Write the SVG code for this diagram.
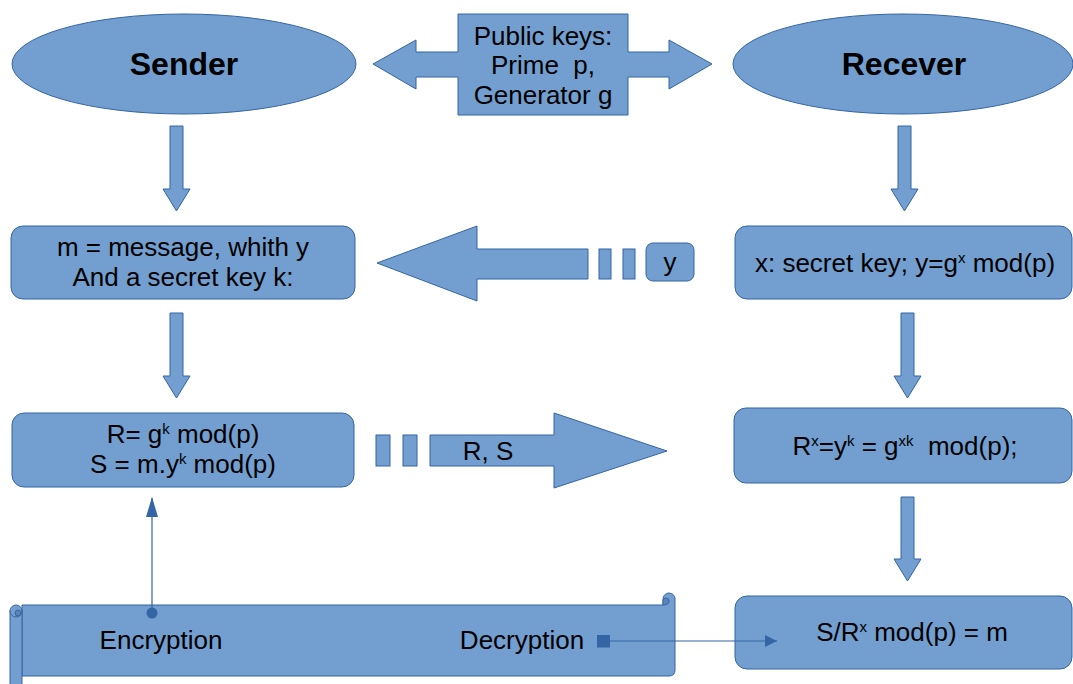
<svg xmlns="http://www.w3.org/2000/svg" width="1073" height="684" viewBox="0 0 1073 684">
  <style>
    .shape { fill: #729fcf; stroke: #3465a4; stroke-width: 1; }
    .curl { fill: #5b84b5; stroke: #3465a4; stroke-width: 1; }
    .label { font-family: "Liberation Sans", Arial, sans-serif; font-size: 26px; fill: #000; text-anchor: middle; }
    .title { font-family: "Liberation Sans", Arial, sans-serif; font-size: 32px; font-weight: bold; fill: #000; text-anchor: middle; }
    .link { stroke: #3465a4; stroke-width: 1.2; fill: none; }
  </style>
  <defs>
    <marker id="tri" viewBox="0 0 12 12" refX="12" refY="6" markerWidth="12" markerHeight="12" markerUnits="userSpaceOnUse" orient="auto">
      <path d="M0,0 L12,6 L0,12 Z" fill="#3465a4"/>
    </marker>
    <marker id="tri-up" viewBox="0 0 20 12" refX="19" refY="6" markerWidth="20" markerHeight="12" markerUnits="userSpaceOnUse" orient="auto">
      <path d="M0,0 L20,6 L0,12 Z" fill="#3465a4"/>
    </marker>
    <marker id="dot" viewBox="0 0 12 12" refX="6" refY="6" markerWidth="12" markerHeight="12" markerUnits="userSpaceOnUse">
      <circle cx="6" cy="6" r="5.5" fill="#3465a4"/>
    </marker>
    <marker id="sq" viewBox="0 0 13 13" refX="6.5" refY="6.5" markerWidth="13" markerHeight="13" markerUnits="userSpaceOnUse">
      <rect x="0" y="0" width="13" height="13" fill="#3465a4"/>
    </marker>
  </defs>

  <!-- Parties -->
  <g id="sender">
    <ellipse class="shape" cx="184" cy="64" rx="172" ry="50"/>
    <text class="title" x="184" y="75">Sender</text>
  </g>
  <g id="receiver">
    <ellipse class="shape" cx="903" cy="64" rx="170" ry="50"/>
    <text class="title" x="904" y="75">Recever</text>
  </g>

  <!-- Shared public parameters with double arrow -->
  <g id="public-keys">
    <path class="shape" d="M373,64 L416,40 L416,52 L458,52 L458,14 L628,14 L628,52 L669,52 L669,40 L712,64 L669,89 L669,77 L628,77 L628,115 L458,115 L458,77 L416,77 L416,89 Z"/>
    <text class="label" x="543" y="45">Public keys:</text>
    <text class="label" x="543" y="74" xml:space="preserve">Prime  p,</text>
    <text class="label" x="543" y="104">Generator g</text>
  </g>

  <!-- Flow arrows -->
  <g id="flow-arrows">
    <path class="shape" d="M170,126 H183 V189 H190 L176.5,211 L163,189 H170 Z"/>
    <path class="shape" d="M170,313 H183 V376 H190 L176.5,398 L163,376 H170 Z"/>
    <path class="shape" d="M898,126 H911 V189 H918 L904.5,211 L891,189 H898 Z"/>
    <path class="shape" d="M901,313 H914 V376 H921 L907.5,398 L894,376 H901 Z"/>
    <path class="shape" d="M901,497 H914 V559 H921 L907.5,581 L894,559 H901 Z"/>
  </g>

  <!-- Sender steps -->
  <g id="sender-message">
    <rect class="shape" x="11" y="226" width="344" height="73" rx="12"/>
    <text class="label" x="183" y="256">m = message, whith y</text>
    <text class="label" x="183" y="286">And a secret key k:</text>
  </g>
  <g id="sender-sign">
    <rect class="shape" x="12" y="413" width="342" height="74" rx="12"/>
    <text class="label" x="183" y="443">R= g<tspan dy="-9" font-size="15">k</tspan><tspan dy="9"> mod(p)</tspan></text>
    <text class="label" x="183" y="473">S = m.y<tspan dy="-9" font-size="15">k</tspan><tspan dy="9"> mod(p)</tspan></text>
  </g>

  <!-- Receiver steps -->
  <g id="receiver-key">
    <rect class="shape" x="735" y="226" width="337" height="73" rx="12"/>
    <text class="label" x="905" y="272">x: secret key; y=g<tspan dy="-9" font-size="15">x</tspan><tspan dy="9"> mod(p)</tspan></text>
  </g>
  <g id="receiver-shared">
    <rect class="shape" x="734" y="408" width="338" height="75" rx="12"/>
    <text class="label" x="905" y="455" xml:space="preserve">R<tspan dy="-9" font-size="15">x</tspan><tspan dy="9">=y</tspan><tspan dy="-9" font-size="15">k</tspan><tspan dy="9"> = g</tspan><tspan dy="-9" font-size="15">xk</tspan><tspan dy="9">  mod(p);</tspan></text>
  </g>
  <g id="receiver-decrypt">
    <rect class="shape" x="735" y="596" width="337" height="73" rx="12"/>
    <text class="label" x="912" y="641">S/R<tspan dy="-9" font-size="15">x</tspan><tspan dy="9"> mod(p) = m</tspan></text>
  </g>

  <!-- Public value y sent to the sender -->
  <g id="send-y">
    <path class="shape" d="M377,263 L477,226 L477,249 L588,249 L588,279 L477,279 L477,301 Z"/>
    <rect class="shape" x="599" y="249" width="12" height="30"/>
    <rect class="shape" x="623" y="249" width="12" height="30"/>
    <rect class="shape" x="646" y="243" width="48" height="38" rx="7"/>
    <text class="label" x="670" y="271">y</text>
  </g>

  <!-- Ciphertext R, S sent to the receiver -->
  <g id="send-rs">
    <rect class="shape" x="376" y="435" width="14" height="31"/>
    <rect class="shape" x="403" y="435" width="14" height="31"/>
    <path class="shape" d="M430,435 L554,435 L554,413 L667,451 L554,488 L554,466 L430,466 Z"/>
    <text class="label" x="488" y="460">R, S</text>
  </g>

  <!-- Scroll banner: body with a top-right curl, rolled strip on the left -->
  <g id="scroll">
    <path class="shape" d="M22,605 H663 V599 A6,6 0 0 1 675,599 V670 Q675,676 669,676 H22 Z"/>
    <path class="curl" d="M663,605 V601 A3,3 0 0 1 669,601 Q669,605 663,605 Z"/>
    <rect class="shape" x="10" y="611" width="12" height="80"/>
    <circle class="shape" cx="16" cy="611" r="6"/>
    <circle class="curl" cx="18" cy="613" r="3"/>
    <text class="label" x="161" y="649">Encryption</text>
    <text class="label" x="522" y="649">Decryption</text>
  </g>

  <!-- Connectors -->
  <g id="connectors">
    <line class="link" x1="152" y1="613" x2="152" y2="498" marker-start="url(#dot)" marker-end="url(#tri-up)"/>
    <line class="link" x1="603.5" y1="641" x2="777" y2="641" marker-start="url(#sq)" marker-end="url(#tri)"/>
  </g>
</svg>
